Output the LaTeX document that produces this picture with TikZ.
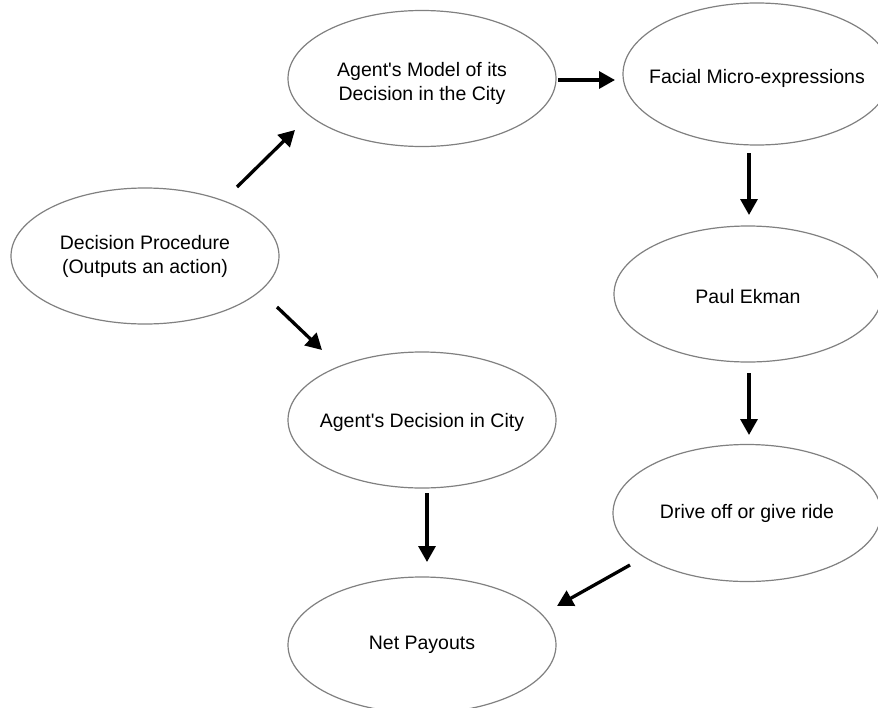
\documentclass[tikz,border=0pt]{standalone}
\usepackage{fontspec}
\setmainfont{Liberation Sans}
\usetikzlibrary{shapes.geometric,arrows.meta}
\begin{document}
\begin{tikzpicture}[x=1pt,y=-1pt,
  bubble/.style 2 args={ellipse,draw=black!50,line width=1.2pt,inner sep=0pt,
    minimum width=268pt,minimum height=136pt,
    label={[align=center,font=\fontsize{19.5}{24}\selectfont,yshift=-#2]center:#1}},
  arr/.style={line width=3.3pt,-{Triangle[length=16pt,width=17pt]}}]
\useasboundingbox (0,0) rectangle (878,707);
\fill[white] (0,0) rectangle (878,707);

% Nodes (the text sits in a centred label so the ellipse keeps its size)
\node[bubble={Decision Procedure\\(Outputs an action)}{0pt}] (dp) at (145,256) {};
\node[bubble={Agent\textquotesingle s Model of its\\Decision in the City}{5pt}] (am) at (422,78.5) {};
\node[bubble={Facial Micro-expressions}{4pt},minimum height=142pt] (fm) at (757,74) {};
\node[bubble={Paul Ekman}{3pt}] (pe) at (748,294) {};
\node[bubble={Agent\textquotesingle s Decision in City}{2pt}] (ad) at (422,420) {};
\node[bubble={Drive off or give ride}{0pt},minimum height=137pt] (dr) at (747,513) {};
\node[bubble={Net Payouts}{0pt}] (np) at (422,645) {};

% Connectors
\draw[arr] ([shift={(92,-69)}]dp.center) -- ([shift={(-127,51.5)}]am.center);
\draw[arr] ([shift={(136,1.5)}]am.center) -- ([shift={(-142,6)}]fm.center);
\draw[arr] ([shift={(-8,79)}]fm.center) -- ([shift={(1,-79)}]pe.center);
\draw[arr] ([shift={(1,79)}]pe.center) -- ([shift={(2,-78)}]dr.center);
\draw[arr] ([shift={(132,51)}]dp.center) -- ([shift={(-100,-70)}]ad.center);
\draw[arr] ([shift={(5,73)}]ad.center) -- ([shift={(5,-83)}]np.center);
\draw[arr] ([shift={(-117,52)}]dr.center) -- ([shift={(135,-39)}]np.center);
\end{tikzpicture}
\end{document}
